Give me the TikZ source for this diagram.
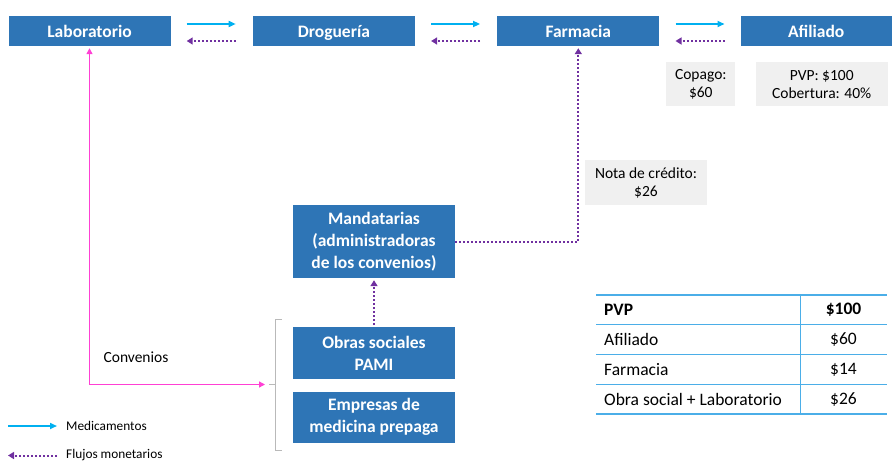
\documentclass[tikz,border=0pt]{standalone}
\usepackage{fontspec}
\setmainfont{Carlito}
\usetikzlibrary{arrows.meta, positioning, calc}
\definecolor{boxblue}{HTML}{2E75B6}
\definecolor{medblue}{HTML}{00B0F0}
\definecolor{moneypurple}{HTML}{7030A0}
\definecolor{convpink}{HTML}{FF40D4}
\definecolor{notegray}{HTML}{F0F0F0}
\definecolor{tableblue}{HTML}{4BAEE8}
\tikzset{
    actor/.style={
        rectangle,
        fill=boxblue,
        text=white,
        minimum width=162pt,
        minimum height=30pt,
        inner sep=2pt,
        align=center,
        font=\bfseries\fontsize{17.5}{22}\selectfont
    },
    chainbox/.style={
        actor,
        text height=14.5pt,
        text depth=1.5pt
    },
    note/.style={
        rectangle,
        fill=notegray,
        minimum height=44pt,
        inner sep=2pt,
        align=center,
        font=\fontsize{15.5}{18}\selectfont
    },
    medflow/.style={
        draw=medblue,
        line width=1.6pt,
        -{Triangle[length=7pt,width=6pt]}
    },
    moneyflow/.style={
        draw=moneypurple,
        line width=2pt,
        dash pattern=on 2pt off 2pt,
        -{Triangle[length=6pt,width=7pt]}
    },
    convflow/.style={
        draw=convpink,
        line width=1.3pt,
        {Triangle[length=6pt,width=6pt]}-{Triangle[length=6pt,width=6pt]}
    },
    cell/.style={
        anchor=west,
        inner sep=0pt,
        font=\fontsize{17.5}{20}\selectfont
    },
    legend/.style={
        anchor=west,
        inner sep=0pt,
        font=\fontsize{13.3}{16}\selectfont
    }
}

\begin{document}
\begin{tikzpicture}[x=1pt, y=-1pt]
\useasboundingbox (0,0) rectangle (893,463);

% Chain of distribution
\node[chainbox] (lab) at (89.5,31) {Laboratorio};
\node[chainbox, right=82pt of lab] (drog) {Droguería};
\node[chainbox, right=82pt of drog] (farm) {Farmacia};
\node[chainbox, right=81pt of farm, minimum width=151pt] (afil) {Afiliado};

\draw[medflow, shorten <=16pt, shorten >=17pt] ([yshift=7pt]lab.east) -- ([yshift=7pt]drog.west);
\draw[medflow, shorten <=16pt, shorten >=17pt] ([yshift=7pt]drog.east) -- ([yshift=7pt]farm.west);
\draw[medflow, shorten <=16pt, shorten >=16pt] ([yshift=7pt]farm.east) -- ([yshift=7pt]afil.west);
\draw[moneyflow, shorten <=17pt, shorten >=16pt] ([yshift=-10pt]drog.west) -- ([yshift=-10pt]lab.east);
\draw[moneyflow, shorten <=17pt, shorten >=16pt] ([yshift=-10pt]farm.west) -- ([yshift=-10pt]drog.east);
\draw[moneyflow, shorten <=16pt, shorten >=16pt] ([yshift=-10pt]afil.west) -- ([yshift=-10pt]farm.east);

% Notes
\node[note, below=16pt of afil, xshift=5.5pt, minimum width=132pt] (pvp) {PVP: \$100\\Cobertura: 40\%};
\node[note, left=20pt of pvp, minimum width=69pt] (copago) {Copago:\\\$60};
\node[note, minimum width=122pt, minimum height=45pt] (nota) at (646,182.5) {Nota de crédito:\\\$26};

% Financing side
\node[actor, minimum height=73pt] (mand) at (374,241.5) {Mandatarias\\(administradoras\\de los convenios)};
\node[actor, below=49pt of mand, minimum height=52pt] (obras) {Obras sociales\\PAMI};
\node[actor, below=12pt of obras, minimum height=51pt] (emp) {Empresas de\\medicina prepaga};

\draw[moneyflow, shorten <=2pt, shorten >=2pt] (obras.north) -- (mand.south);
\draw[moneyflow, shorten >=2pt] (mand.east) -| (farm.south);

% Convenios bracket
\draw[gray!55, line width=0.8pt] (282,319) -- (275,319) -- (275,450) -- (282,450);
\draw[gray!55, line width=0.8pt] (275,384.5) -- (269,384.5);
\coordinate (brace) at (265,384.5);
\draw[convflow, shorten <=2pt] (lab.south) |- (brace);
\node[font=\fontsize{15.5}{18}\selectfont] (conv) at (136,357) {Convenios};

% Table
\foreach \ytop in {295,324.75,354.5,384.25,414}
    \draw[tableblue, line width=1.3pt] (596,\ytop) -- (887,\ytop);
\draw[tableblue, line width=0.8pt] (800,295) -- (800,414);
\foreach \lbl/\val [count=\i] in {{\bfseries PVP}/{\bfseries\$100}, Afiliado/\$60, Farmacia/\$14, Obra social + Laboratorio/\$26} {
    \node[cell] (row\i) at (604,295+29.75*\i-14.875) {\lbl};
    \node[cell, anchor=center] (val\i) at (843.5,295+29.75*\i-14.875) {\val};
}

% Legend
\coordinate (legmed) at (8,426);
\coordinate (legmon) at (8,455.5);
\node[legend] (medtxt) at (66,426) {Medicamentos};
\node[legend] (montxt) at (66,455.5) {Flujos monetarios};
\draw[medflow, shorten >=9pt] (legmed) -- (medtxt.west);
\draw[moneyflow, shorten <=9pt] (montxt.west) -- (legmon);

\end{tikzpicture}
\end{document}
